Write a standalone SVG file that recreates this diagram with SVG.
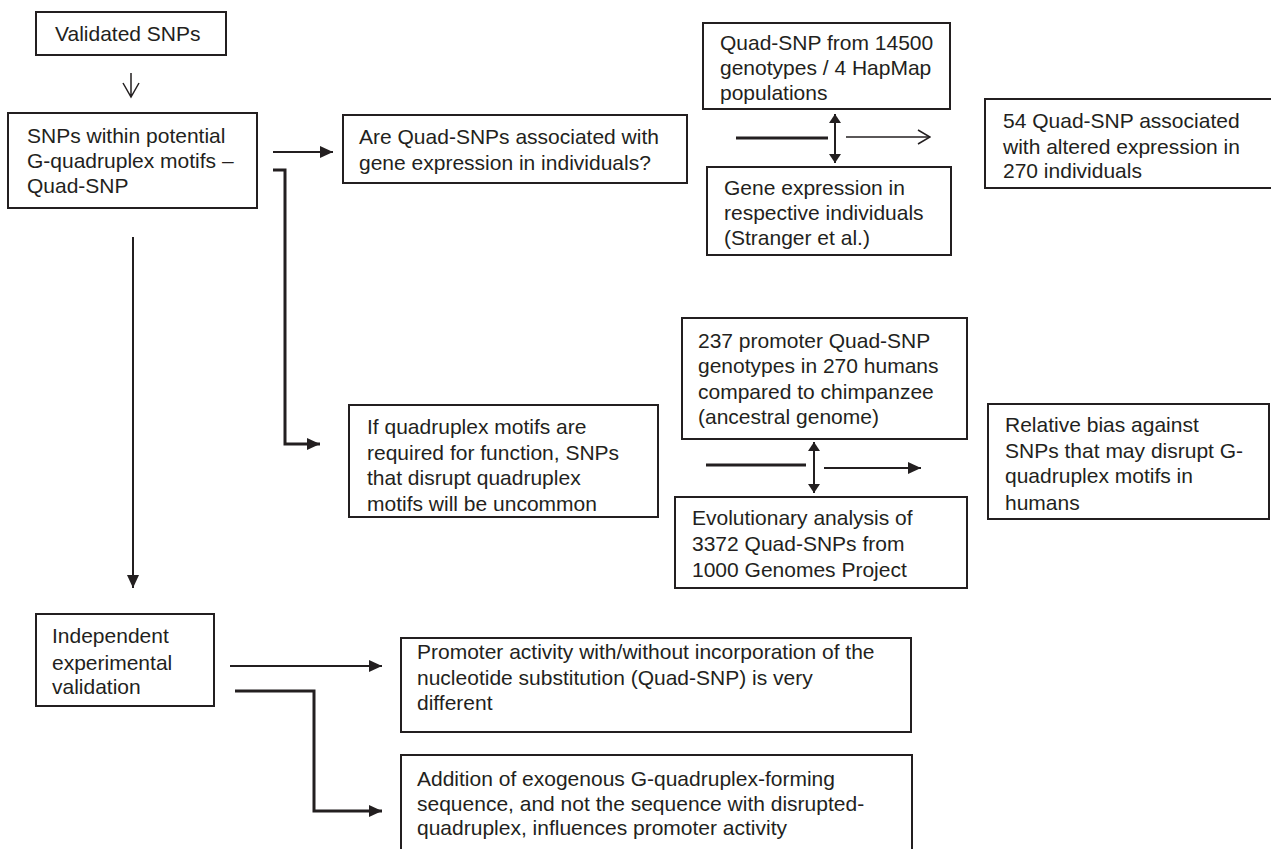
<svg xmlns="http://www.w3.org/2000/svg" width="1271" height="849" viewBox="0 0 1271 849">
<defs>
<style>
.box{fill:#fff;stroke:#231f20;stroke-width:2}
.t{font-family:"Liberation Sans",Arial,Helvetica,sans-serif;font-size:21px;fill:#231f20}
.ln{fill:none;stroke:#231f20;stroke-width:2}
.thk{fill:none;stroke:#231f20;stroke-width:3}
.thin{fill:none;stroke:#231f20;stroke-width:1.5}
</style>
<marker id="ah" markerUnits="userSpaceOnUse" markerWidth="14" markerHeight="12" refX="13" refY="6" orient="auto-start-reverse">
<path d="M0,0 L13,6 L0,12 z" fill="#231f20"/>
</marker>
<marker id="ahs" markerUnits="userSpaceOnUse" markerWidth="12" markerHeight="12" refX="9" refY="6" orient="auto-start-reverse">
<path d="M0,0 L9,6 L0,12 z" fill="#231f20"/>
</marker>
<marker id="oh" markerUnits="userSpaceOnUse" markerWidth="14" markerHeight="16" refX="13" refY="8" orient="auto">
<path d="M1,1 L13,8 L1,15" fill="none" stroke="#231f20" stroke-width="1.5"/>
</marker>
</defs>
<rect width="1271" height="849" fill="#fff"/>

<g id="connectors">
<path class="thin" d="M131,73 V97 M123,83 L131,97 L139,83"/>
<path class="ln" d="M273,152 H333" marker-end="url(#ah)"/>
<path class="thk" d="M273,170 H285 V444 H320" marker-end="url(#ah)"/>
<path class="ln" d="M133,237 V588" marker-end="url(#ah)"/>
<path class="thk" d="M736,138 H828"/>
<path class="ln" d="M835,114 V163" marker-start="url(#ahs)" marker-end="url(#ahs)"/>
<path class="thin" d="M846,137 H930" marker-end="url(#oh)"/>
<path class="thk" d="M706,465 H806"/>
<path class="ln" d="M814,442 V493" marker-start="url(#ahs)" marker-end="url(#ahs)"/>
<path class="ln" d="M824,468 H921" marker-end="url(#ah)"/>
<path class="ln" d="M230,666 H382" marker-end="url(#ah)"/>
<path class="thk" d="M235,691 H314 V811 H382" marker-end="url(#ah)"/>
</g>

<g id="validated">
<rect class="box" x="36" y="12" width="190" height="43"/>
<text class="t" x="55" y="41">Validated SNPs</text>
</g>

<g id="snps-within">
<rect class="box" x="8" y="113" width="249" height="95"/>
<text class="t" x="27" y="143">SNPs within potential</text>
<text class="t" x="27" y="168">G-quadruplex motifs –</text>
<text class="t" x="27" y="193">Quad-SNP</text>
</g>

<g id="are-quad">
<rect class="box" x="343" y="115" width="344" height="68"/>
<text class="t" x="359" y="144">Are Quad-SNPs associated with</text>
<text class="t" x="359" y="170">gene expression in individuals?</text>
</g>

<g id="quad-hapmap">
<rect class="box" x="703" y="23" width="247" height="86"/>
<text class="t" x="720" y="50">Quad-SNP from 14500</text>
<text class="t" x="720" y="75">genotypes / 4 HapMap</text>
<text class="t" x="720" y="100">populations</text>
</g>

<g id="gene-expression">
<rect class="box" x="707" y="167" width="244" height="88"/>
<text class="t" x="724" y="195">Gene expression in</text>
<text class="t" x="724" y="220">respective individuals</text>
<text class="t" x="724" y="245">(Stranger et al.)</text>
</g>

<g id="fifty-four">
<rect class="box" x="985" y="99" width="290" height="89"/>
<text class="t" x="1003" y="128">54 Quad-SNP associated</text>
<text class="t" x="1003" y="154">with altered expression in</text>
<text class="t" x="1003" y="178">270 individuals</text>
</g>

<g id="if-quadruplex">
<rect class="box" x="349" y="405" width="309" height="112"/>
<text class="t" x="367" y="434">If quadruplex motifs are</text>
<text class="t" x="367" y="460">required for function, SNPs</text>
<text class="t" x="367" y="485">that disrupt quadruplex</text>
<text class="t" x="367" y="511">motifs will be uncommon</text>
</g>

<g id="promoter-237">
<rect class="box" x="682" y="318" width="285" height="121"/>
<text class="t" x="698" y="348">237 promoter Quad-SNP</text>
<text class="t" x="698" y="373">genotypes in 270 humans</text>
<text class="t" x="698" y="399">compared to chimpanzee</text>
<text class="t" x="698" y="424">(ancestral genome)</text>
</g>

<g id="evolutionary">
<rect class="box" x="675" y="497" width="292" height="91"/>
<text class="t" x="692" y="525">Evolutionary analysis of</text>
<text class="t" x="692" y="551">3372 Quad-SNPs from</text>
<text class="t" x="692" y="577">1000 Genomes Project</text>
</g>

<g id="relative-bias">
<rect class="box" x="988" y="404" width="281" height="115"/>
<text class="t" x="1005" y="432">Relative bias against</text>
<text class="t" x="1005" y="458">SNPs that may disrupt G-</text>
<text class="t" x="1005" y="483">quadruplex motifs in</text>
<text class="t" x="1005" y="510">humans</text>
</g>

<g id="independent">
<rect class="box" x="36" y="614" width="178" height="92"/>
<text class="t" x="52" y="643">Independent</text>
<text class="t" x="52" y="670">experimental</text>
<text class="t" x="52" y="694">validation</text>
</g>

<g id="promoter-activity">
<rect class="box" x="401" y="638" width="510" height="94"/>
<text class="t" x="417" y="659">Promoter activity with/without incorporation of the</text>
<text class="t" x="417" y="685">nucleotide substitution (Quad-SNP) is very</text>
<text class="t" x="417" y="710">different</text>
</g>

<g id="addition">
<rect class="box" x="401" y="755" width="511" height="110"/>
<text class="t" x="417" y="786">Addition of exogenous G-quadruplex-forming</text>
<text class="t" x="417" y="811">sequence, and not the sequence with disrupted-</text>
<text class="t" x="417" y="835">quadruplex, influences promoter activity</text>
</g>
</svg>
